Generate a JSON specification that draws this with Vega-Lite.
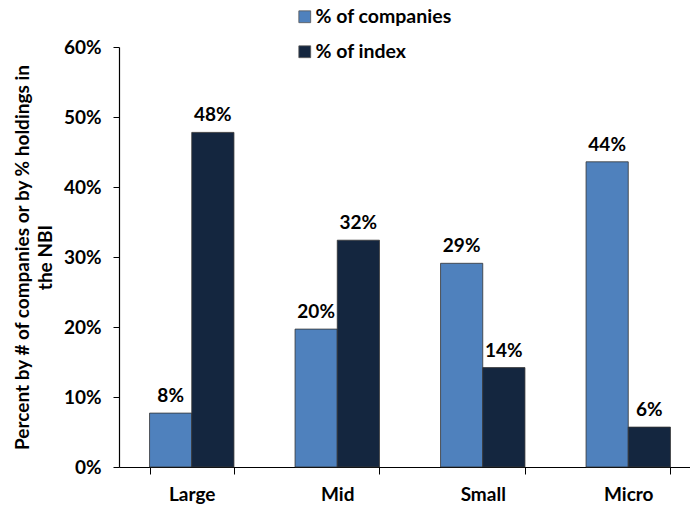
{
  "$schema": "https://vega.github.io/schema/vega-lite/v6.json",
  "autosize": "none",
  "padding": {"left": 119, "top": 47, "right": 0, "bottom": 39},
  "width": 582,
  "height": 420,
  "config": {
    "font": "Lato",
    "view": {"stroke": null},
    "axis": {"labelFont": "Lato", "labelFontWeight": "bold", "labelFontSize": 19, "labelColor": "#000", "titleColor": "#000", "domainColor": "#000", "tickColor": "#000", "grid": false}
  },
  "data": {
    "values": [
      {"size": "Large", "series": "% of companies", "value": 0.077},
      {"size": "Large", "series": "% of index", "value": 0.478},
      {"size": "Mid", "series": "% of companies", "value": 0.197},
      {"size": "Mid", "series": "% of index", "value": 0.324},
      {"size": "Small", "series": "% of companies", "value": 0.291},
      {"size": "Small", "series": "% of index", "value": 0.142},
      {"size": "Micro", "series": "% of companies", "value": 0.436},
      {"size": "Micro", "series": "% of index", "value": 0.057}
    ]
  },
  "encoding": {
    "x": {
      "field": "size", "type": "nominal", "sort": ["Large", "Mid", "Small", "Micro"],
      "scale": {"paddingInner": 0.42, "paddingOuter": 0.21},
      "axis": {"title": null, "labelAngle": 0, "tickBand": "extent", "tickSize": 7, "labelPadding": 11, "domainWidth": 1.2}
    },
    "xOffset": {"field": "series", "type": "nominal", "sort": ["% of companies", "% of index"]},
    "y": {
      "field": "value", "type": "quantitative",
      "scale": {"domain": [0, 0.6]},
      "axis": {
        "format": ".0%", "values": [0, 0.1, 0.2, 0.3, 0.4, 0.5, 0.6], "labelOverlap": false,
        "tickSize": 6, "labelPadding": 12, "domainWidth": 1.2,
        "title": ["Percent by # of companies or by % holdings in", "the NBI"],
        "titleFont": "Lato", "titleFontWeight": "bold", "titleFontSize": 19, "titlePadding": 8, "titleLineHeight": 23
      }
    }
  },
  "layer": [
    {
      "mark": {"type": "bar", "stroke": "#333", "strokeWidth": 0.8},
      "encoding": {
        "color": {
          "field": "series", "type": "nominal",
          "scale": {"domain": ["% of companies", "% of index"], "range": ["#4F81BD", "#14263F"]},
          "legend": {
            "title": null, "orient": "none", "legendX": 176, "legendY": -40,
            "direction": "vertical", "symbolType": "square", "symbolSize": 140,
            "symbolStrokeColor": "#555", "symbolStrokeWidth": 0.8,
            "labelFont": "Lato", "labelFontWeight": "bold", "labelFontSize": 19.5, "labelColor": "#000",
            "rowPadding": 14, "labelOffset": 1
          }
        }
      }
    },
    {
      "mark": {"type": "text", "baseline": "bottom", "dy": -7, "font": "Lato", "fontWeight": "bold", "fontSize": 19, "color": "#000"},
      "encoding": {
        "text": {"field": "value", "type": "quantitative", "format": ".0%"}
      }
    }
  ]
}
